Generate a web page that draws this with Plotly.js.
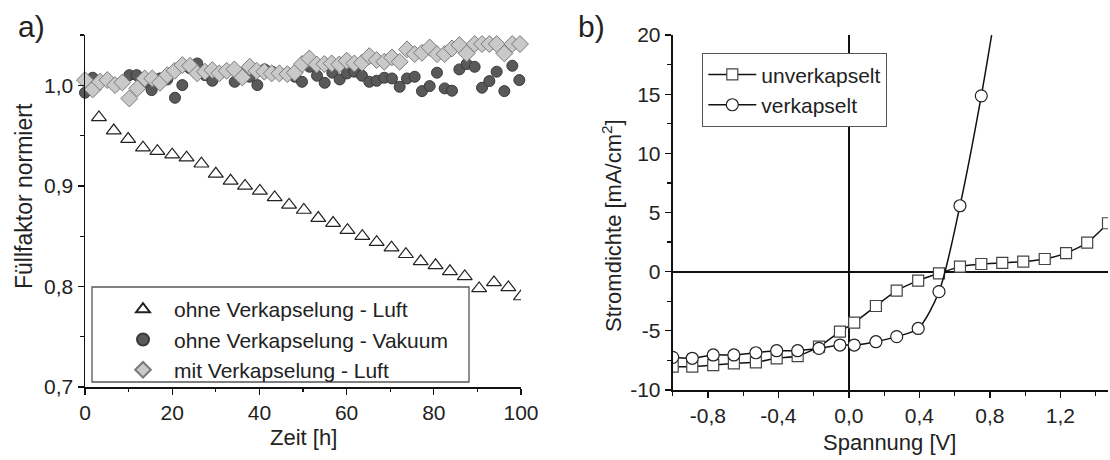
<!DOCTYPE html>
<html>
<head>
<meta charset="utf-8">
<script src="https://cdn.plot.ly/plotly-3.0.1.min.js"></script>
<style>html,body{margin:0;padding:0;background:#fff;}#chart{width:1110px;height:460px;}</style>
</head>
<body>
<div id="chart"></div>
<script>
// ---------- Panel a) data ----------
const timeLuft = [3.2, 6.6, 9.9, 13.3, 16.6, 20.0, 23.3, 26.7, 30.0, 33.4, 36.7, 40.1, 43.5, 46.8, 50.2,
  53.5, 56.9, 60.2, 63.6, 66.9, 70.3, 73.6, 77.0, 80.4, 83.7, 87.1, 90.4, 93.8, 97.1, 100.0];
const ffOhneLuft = [0.968, 0.955, 0.9465, 0.938, 0.9345, 0.931, 0.928, 0.922, 0.912, 0.905, 0.900, 0.895,
  0.8885, 0.881, 0.876, 0.868, 0.863, 0.856, 0.850, 0.844, 0.8385, 0.832, 0.825, 0.821, 0.815, 0.810,
  0.798, 0.804, 0.799, 0.790];

const timeVakuum = [0.0, 1.76, 10.17, 11.85, 13.76, 15.29, 17.2, 18.88, 20.64, 22.32, 24.08, 25.76, 27.52,
  29.2, 30.96, 34.33, 36.09, 37.77, 39.53, 41.21, 42.89, 44.72, 46.41, 48.17, 49.77, 51.53, 53.21, 54.97,
  56.73, 58.41, 60.09, 61.77, 63.53, 65.21, 66.9, 68.65, 70.41, 72.17, 73.85, 75.61, 77.29, 79.05, 80.73,
  82.49, 84.17, 85.86, 87.54, 89.37, 91.06, 92.74, 94.42, 96.18, 98.01, 99.62];
const ffOhneVakuum = [0.9926, 1.0075, 1.0101, 1.0101, 1.0019, 0.9952, 1.0068, 1.0058, 0.9876, 1.0002,
  1.0168, 1.0217, 1.0101, 1.0045, 1.0118, 1.0035, 1.0118, 1.0085, 1.0002, 1.0158, 1.0135, 1.0118, 1.0118,
  1.0085, 1.0035, 1.0184, 1.0095, 1.0025, 1.0125, 1.0058, 1.0118, 1.0135, 1.0095, 1.0035, 1.0045, 1.0075,
  1.0068, 0.9985, 1.0068, 1.0085, 0.9942, 0.9992, 1.0125, 0.9969, 0.9946, 1.0158, 1.0211, 1.0184, 0.9976,
  1.0042, 1.0135, 0.9942, 1.0194, 1.0052];

const timeMit = [0.0, 1.76, 3.44, 5.12, 6.88, 8.56, 10.17, 12.0, 13.69, 15.44, 17.2, 18.88, 20.56, 22.32,
  24.08, 25.76, 27.52, 29.2, 30.81, 32.49, 34.25, 36.09, 37.77, 39.37, 41.13, 42.81, 44.57, 46.41, 48.09,
  49.77, 51.45, 53.13, 54.89, 56.57, 58.33, 60.02, 61.77, 63.53, 65.21, 66.9, 68.65, 70.41, 72.17, 73.85,
  75.61, 77.29, 79.05, 80.73, 82.49, 84.17, 85.86, 87.54, 89.37, 91.06, 92.74, 94.42, 96.18, 98.01, 99.77];
const ffMitLuft = [1.0052, 0.9959, 1.0035, 1.0052, 1.0002, 1.0028, 0.9869, 0.9969, 1.0068, 1.0068, 1.0025,
  1.0101, 1.0144, 1.0201, 1.0194, 1.0118, 1.0135, 1.0151, 1.0118, 1.0144, 1.0158, 1.0078, 1.0184, 1.0144,
  1.0135, 1.0118, 1.0118, 1.0111, 1.0125, 1.0211, 1.0267, 1.0207, 1.0211, 1.0217, 1.0207, 1.0244, 1.0217,
  1.0224, 1.029, 1.025, 1.0234, 1.0277, 1.0234, 1.0357, 1.031, 1.0323, 1.0376, 1.031, 1.031, 1.0366, 1.04,
  1.0317, 1.041, 1.041, 1.041, 1.041, 1.0317, 1.041, 1.041];

const namesA = ['ohne Verkapselung - Luft', 'ohne Verkapselung - Vakuum', 'mit Verkapselung - Luft'];
const xTicksA = [0, 20, 40, 60, 80, 100];
const xTickTextA = ['0', '20', '40', '60', '80', '100'];
const yTicksA = [0.7, 0.8, 0.9, 1.0];
const yTickTextA = ['0,7', '0,8', '0,9', '1,0'];

// ---------- Panel b) data ----------
const voltUnv = [-1.0, -0.889, -0.770, -0.653, -0.528, -0.41, -0.291, -0.170, -0.051, 0.030, 0.153, 0.271,
  0.393, 0.511, 0.630, 0.751, 0.870, 0.989, 1.111, 1.232, 1.352, 1.47];
const jUnv = [-8.03, -8.03, -7.89, -7.75, -7.66, -7.32, -7.13, -6.34, -5.07, -4.31, -2.9, -1.61, -0.76,
  -0.14, 0.42, 0.65, 0.74, 0.85, 1.07, 1.56, 2.45, 4.09];
const voltVer = [-1.0, -0.889, -0.770, -0.653, -0.528, -0.41, -0.291, -0.170, -0.051, 0.030, 0.153, 0.271,
  0.393, 0.511, 0.630, 0.751, 0.870];
const jVer = [-7.24, -7.32, -7.04, -7.04, -6.85, -6.68, -6.68, -6.48, -6.2, -6.2, -5.92, -5.49, -4.8,
  -1.69, 5.57, 14.86, 25.5];
const namesB = ['unverkapselt', 'verkapselt'];
const xTicksB = [-0.8, -0.4, 0.0, 0.4, 0.8, 1.2];
const xTickTextB = ['-0,8', '-0,4', '0,0', '0,4', '0,8', '1,2'];
const yTicksB = [-10, -5, 0, 5, 10, 15, 20];
const yTickTextB = ['-10', '-5', '0', '5', '10', '15', '20'];

// ---------- layout helpers ----------
const W = 1110, H = 460;
const px = v => v / W;
const py = v => 1 - v / H;
const FONT = '"Liberation Sans", Arial, Helvetica, sans-serif';
const TXT = '#222';

const traces = [
  { type: 'scatter', mode: 'markers', x: timeLuft, y: ffOhneLuft, name: namesA[0], xaxis: 'x', yaxis: 'y',
    cliponaxis: true,
    marker: { symbol: 'triangle-up', size: 13, color: '#ffffff', line: { color: '#222', width: 1.2 } } },
  { type: 'scatter', mode: 'markers', x: timeVakuum, y: ffOhneVakuum, name: namesA[1], xaxis: 'x', yaxis: 'y',
    cliponaxis: false,
    marker: { symbol: 'circle', size: 11, color: '#595959', line: { color: '#3a3a3a', width: 1 } } },
  { type: 'scatter', mode: 'markers', x: timeMit, y: ffMitLuft, name: namesA[2], xaxis: 'x', yaxis: 'y',
    cliponaxis: false,
    marker: { symbol: 'diamond', size: 13, color: '#c9c9c9', line: { color: '#7a7a7a', width: 1 } } },
  { type: 'scatter', mode: 'lines+markers', x: voltUnv, y: jUnv, name: namesB[0], xaxis: 'x2', yaxis: 'y2',
    legend: 'legend2', cliponaxis: true,
    line: { color: '#111', width: 1.5, shape: 'spline', smoothing: 0.6 },
    marker: { symbol: 'square', size: 11, color: '#ffffff', line: { color: '#444', width: 1.2 } } },
  { type: 'scatter', mode: 'lines+markers', x: voltVer, y: jVer, name: namesB[1], xaxis: 'x2', yaxis: 'y2',
    legend: 'legend2', cliponaxis: true,
    line: { color: '#111', width: 1.5, shape: 'spline', smoothing: 0.8 },
    marker: { symbol: 'circle', size: 12, color: '#ffffff', line: { color: '#222', width: 1.2 } } }
];

const baseAx = {
  showgrid: false, zeroline: false, showline: true, linecolor: '#111', ticks: 'outside',
  tickcolor: '#111', ticklen: 6, tickwidth: 1.3, tickmode: 'array', fixedrange: true,
  tickfont: { family: FONT, size: 21, color: TXT }, automargin: false
};

const xRangeA = [0, 100], yRangeA = [0.7, 1.05];
const xRangeB = [-1.0, 1.47], yRangeB = [-10, 20];
const domXA = [px(85), px(521)], domYA = [py(387), py(35)];
const domXB = [px(672.7), px(1108)], domYB = [py(390), py(35)];

const layout = {
  width: W, height: H,
  margin: { l: 0, r: 0, t: 0, b: 0 },
  paper_bgcolor: '#fff', plot_bgcolor: 'rgba(0,0,0,0)',
  font: { family: FONT, size: 21, color: TXT },
  xaxis: Object.assign({}, baseAx, { domain: domXA, range: xRangeA, anchor: 'y', linewidth: 1.5,
    tickvals: xTicksA, ticktext: xTickTextA,
    minor: { dtick: 10, tick0: 0, ticks: 'outside', ticklen: 3.5, tickcolor: '#111', tickwidth: 1.2 } }),
  yaxis: Object.assign({}, baseAx, { domain: domYA, range: yRangeA, anchor: 'x', linewidth: 1.5,
    tickvals: yTicksA, ticktext: yTickTextA,
    minor: { dtick: 0.05, tick0: 0.7, ticks: 'outside', ticklen: 3.5, tickcolor: '#111', tickwidth: 1.2 } }),
  xaxis3: Object.assign({}, baseAx, { overlaying: 'x', side: 'top', anchor: 'y', range: xRangeA, linewidth: 1.5,
    tickvals: xTicksA, ticks: 'inside', showticklabels: false,
    minor: { dtick: 10, tick0: 0, ticks: 'inside', ticklen: 3.5, tickcolor: '#111', tickwidth: 1.2 } }),
  yaxis3: Object.assign({}, baseAx, { overlaying: 'y', side: 'right', anchor: 'x', range: yRangeA, linewidth: 1.5,
    tickvals: yTicksA, ticks: 'inside', showticklabels: false,
    minor: { dtick: 0.05, tick0: 0.7, ticks: 'inside', ticklen: 3.5, tickcolor: '#111', tickwidth: 1.2 } }),
  xaxis2: Object.assign({}, baseAx, { domain: domXB, range: xRangeB, anchor: 'y2', linewidth: 2,
    tickvals: xTicksB, ticktext: xTickTextB,
    zeroline: true, zerolinecolor: '#111', zerolinewidth: 2,
    minor: { dtick: 0.2, tick0: 0, ticks: 'outside', ticklen: 3.5, tickcolor: '#111', tickwidth: 1.2 } }),
  yaxis2: Object.assign({}, baseAx, { domain: domYB, range: yRangeB, anchor: 'x2', linewidth: 2,
    tickvals: yTicksB, ticktext: yTickTextB,
    zeroline: true, zerolinecolor: '#111', zerolinewidth: 2,
    minor: { dtick: 2.5, tick0: 0, ticks: 'outside', ticklen: 3.5, tickcolor: '#111', tickwidth: 1.2 } }),
  xaxis4: Object.assign({}, baseAx, { overlaying: 'x2', side: 'top', anchor: 'y2', range: xRangeB, linewidth: 2,
    tickvals: xTicksB, ticks: 'inside', showticklabels: false,
    minor: { dtick: 0.2, tick0: 0, ticks: 'inside', ticklen: 3.5, tickcolor: '#111', tickwidth: 1.2 } }),
  yaxis4: Object.assign({}, baseAx, { overlaying: 'y2', side: 'right', anchor: 'x2', range: yRangeB, linewidth: 2,
    tickvals: yTicksB, ticks: 'inside', showticklabels: false,
    minor: { dtick: 2.5, tick0: 0, ticks: 'inside', ticklen: 3.5, tickcolor: '#111', tickwidth: 1.2 } }),
  legend: {
    x: px(112), y: py(289), xanchor: 'left', yanchor: 'top',
    bgcolor: 'rgba(0,0,0,0)', borderwidth: 0, itemwidth: 52, itemsizing: 'constant',
    font: { family: FONT, size: 21, color: TXT }, tracegroupgap: 0
  },
  legend2: {
    x: px(702), y: py(53), xanchor: 'left', yanchor: 'top',
    bgcolor: '#fff', bordercolor: '#555', borderwidth: 1.3, itemwidth: 48,
    font: { family: FONT, size: 21, color: TXT }
  },
  shapes: [
    { type: 'rect', xref: 'paper', yref: 'paper', x0: px(92), x1: px(469), y0: py(382), y1: py(287),
      line: { color: '#555', width: 1.3 }, fillcolor: 'rgba(0,0,0,0)', layer: 'above' }
  ],
  annotations: [
    { text: 'a)', xref: 'paper', yref: 'paper', x: px(16), y: py(27), xanchor: 'left', yanchor: 'middle',
      showarrow: false, font: { family: FONT, size: 30, color: TXT } },
    { text: 'b)', xref: 'paper', yref: 'paper', x: px(576), y: py(27), xanchor: 'left', yanchor: 'middle',
      showarrow: false, font: { family: FONT, size: 30, color: TXT } },
    { text: 'Zeit [h]', xref: 'paper', yref: 'paper', x: px(303), y: py(437), xanchor: 'center', yanchor: 'middle',
      showarrow: false, font: { family: FONT, size: 22, color: TXT } },
    { text: 'Spannung [V]', xref: 'paper', yref: 'paper', x: px(889), y: py(442), xanchor: 'center', yanchor: 'middle',
      showarrow: false, font: { family: FONT, size: 22, color: TXT } },
    { text: 'Füllfaktor normiert', xref: 'paper', yref: 'paper', x: px(24), y: py(196), xanchor: 'center', yanchor: 'middle',
      textangle: -90, showarrow: false, font: { family: FONT, size: 23, color: TXT } },
    { text: 'Stromdichte [mA/cm<sup>2</sup>]', xref: 'paper', yref: 'paper', x: px(612), y: py(226), xanchor: 'center', yanchor: 'middle',
      textangle: -90, showarrow: false, font: { family: FONT, size: 22, color: TXT } }
  ]
};

Plotly.newPlot('chart', traces, layout, { staticPlot: true, displayModeBar: false });
</script>
</body>
</html>
